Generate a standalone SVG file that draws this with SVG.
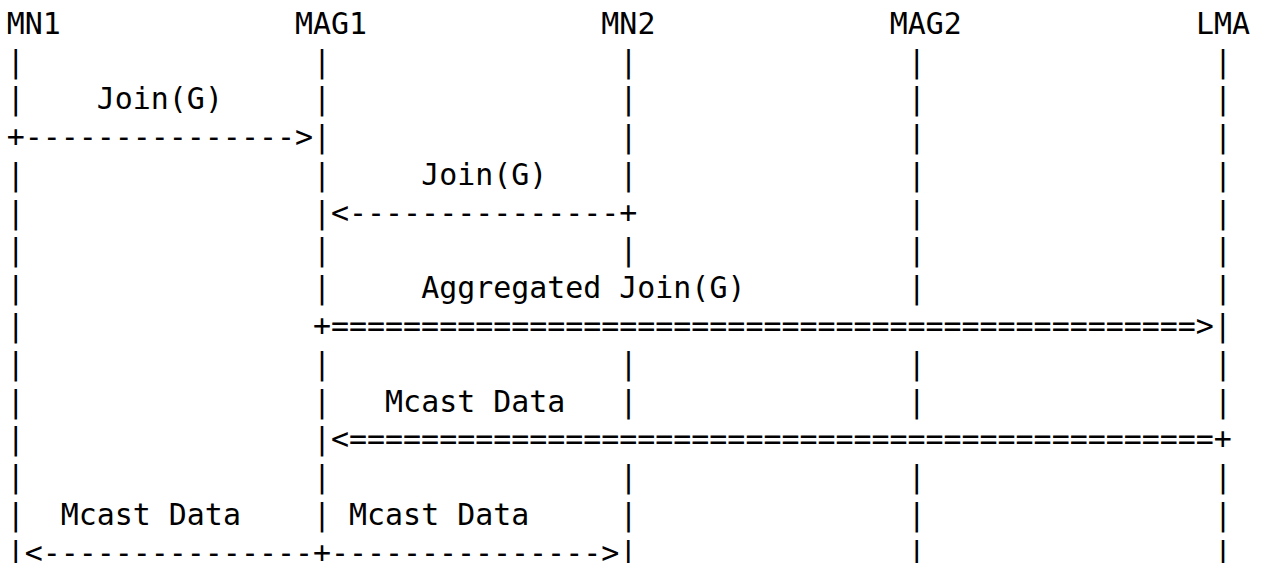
<svg xmlns="http://www.w3.org/2000/svg" width="1263" height="563" viewBox="0 0 1263 563">
<style>
.t { font-family: "DejaVu Sans Mono", "Liberation Mono", monospace; font-size: 29.93px; fill: #000; white-space: pre; }
</style>
<rect width="1263" height="563" fill="#fff"/>
<g id="node-MN1" class="t">
<text x="6.7" y="33.8">MN1</text>
<text x="6.7" y="71.57">|</text><text x="6.7" y="109.34">|</text>
<text x="6.7" y="184.88">|</text><text x="6.7" y="222.65">|</text><text x="6.7" y="260.42">|</text><text x="6.7" y="298.19">|</text>
<text x="6.7" y="335.96">|</text><text x="6.7" y="373.73">|</text><text x="6.7" y="411.5">|</text><text x="6.7" y="449.27">|</text>
<text x="6.7" y="487.04">|</text><text x="6.7" y="524.81">|</text>
</g>
<g id="node-MAG1" class="t">
<text x="295.02" y="33.8">MAG1</text>
<text x="313.04" y="71.57">|</text><text x="313.04" y="109.34">|</text><text x="313.04" y="184.88">|</text>
<text x="313.04" y="260.42">|</text><text x="313.04" y="298.19">|</text><text x="313.04" y="373.73">|</text>
<text x="313.04" y="411.5">|</text><text x="313.04" y="487.04">|</text><text x="313.04" y="524.81">|</text>
</g>
<g id="node-MN2" class="t">
<text x="601.36" y="33.8">MN2</text>
<text x="619.38" y="71.57">|</text><text x="619.38" y="109.34">|</text><text x="619.38" y="147.11">|</text>
<text x="619.38" y="184.88">|</text><text x="619.38" y="260.42">|</text><text x="619.38" y="373.73">|</text>
<text x="619.38" y="411.5">|</text><text x="619.38" y="487.04">|</text><text x="619.38" y="524.81">|</text>
</g>
<g id="node-MAG2" class="t">
<text x="889.68" y="33.8">MAG2</text>
<text x="907.7" y="71.57">|</text><text x="907.7" y="109.34">|</text><text x="907.7" y="147.11">|</text>
<text x="907.7" y="184.88">|</text><text x="907.7" y="222.65">|</text><text x="907.7" y="260.42">|</text>
<text x="907.7" y="298.19">|</text><text x="907.7" y="373.73">|</text><text x="907.7" y="411.5">|</text>
<text x="907.7" y="487.04">|</text><text x="907.7" y="524.81">|</text><text x="907.7" y="562.58">|</text>
</g>
<g id="node-LMA" class="t">
<text x="1196.02" y="33.8">LMA</text>
<text x="1214.04" y="71.57">|</text><text x="1214.04" y="109.34">|</text><text x="1214.04" y="147.11">|</text>
<text x="1214.04" y="184.88">|</text><text x="1214.04" y="222.65">|</text><text x="1214.04" y="260.42">|</text>
<text x="1214.04" y="298.19">|</text><text x="1214.04" y="373.73">|</text><text x="1214.04" y="411.5">|</text>
<text x="1214.04" y="487.04">|</text><text x="1214.04" y="524.81">|</text><text x="1214.04" y="562.58">|</text>
</g>
<g id="connectors" class="t">
<text x="96.8" y="109.34">Join(G)</text>
<text x="6.7" y="147.11">+---------------&gt;|</text>
<text x="421.16" y="184.88">Join(G)</text>
<text x="313.04" y="222.65">|&lt;---------------+</text>
<text x="421.16" y="298.19">Aggregated Join(G)</text>
<text x="313.04" y="335.96">+================================================&gt;|</text>
<text x="385.12" y="411.5">Mcast Data</text>
<text x="313.04" y="449.27">|&lt;================================================+</text>
<text x="60.76" y="524.81">Mcast Data</text>
<text x="349.08" y="524.81">Mcast Data</text>
<text x="6.7" y="562.58">|&lt;---------------+---------------&gt;|</text>
</g>
</svg>
